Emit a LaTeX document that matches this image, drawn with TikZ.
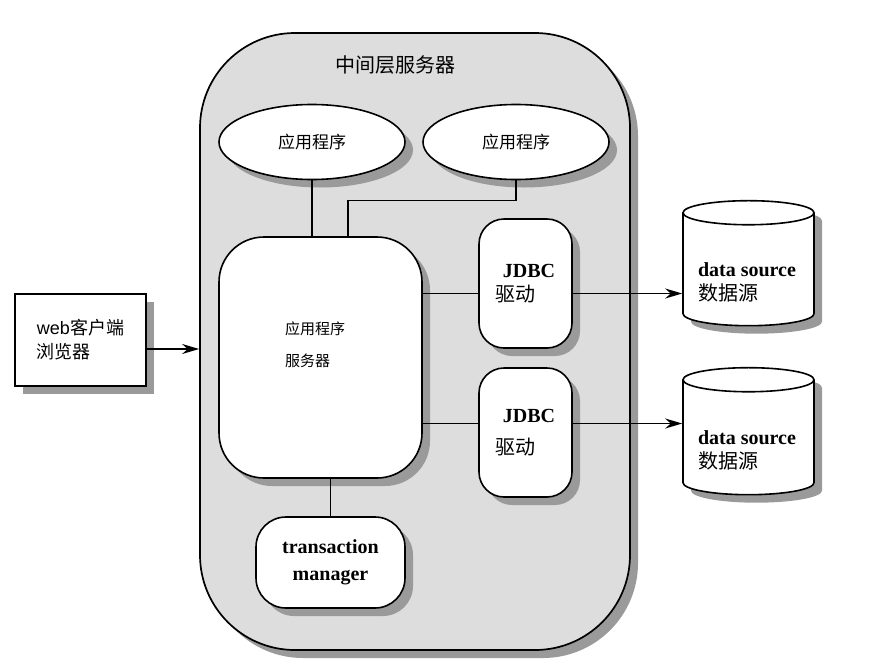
\documentclass[tikz,border=0pt]{standalone}
\usepackage{fontspec}
\setmainfont{Liberation Serif}
\setsansfont{Liberation Sans}
\newfontfamily\cjk{Noto Sans CJK SC}
\usetikzlibrary{shapes.geometric,shadows,arrows.meta}
\definecolor{tiergray}{HTML}{DDDDDD}
\definecolor{shadegray}{HTML}{9A9A9A}

\begin{document}
\begin{tikzpicture}[x=1pt,y=-1pt,
    shade/.style={drop shadow={shadow xshift=8pt,shadow yshift=-8pt,fill=shadegray,opacity=1}},
    box/.style={draw,fill=white,line width=1.6pt,shade},
    link/.style={line width=1.6pt},
    arrow/.style={link,-{Stealth[length=17pt,width=10pt]}},
    dbase/.style={box, cylinder, shape border rotate=90, aspect=0.23, minimum width=131pt,
        font=\bfseries\fontsize{20}{24}\selectfont}]
    \useasboundingbox (0,0) rectangle (875,667);

    \node[draw, line width=1.7pt, fill=tiergray, shade, rounded corners=95pt,
        minimum width=430pt, minimum height=617pt] (midtier) at (415,341.5) {};
    \node[font=\cjk\fontsize{20}{24}\selectfont] (title) at (395,65) {中间层服务器};

    \node[box, ellipse, minimum width=186pt, minimum height=75pt,
        font=\cjk\fontsize{17}{20}\selectfont] (app1) at (312,142) {应用程序};
    \node[box, ellipse, minimum width=186pt, minimum height=75pt,
        font=\cjk\fontsize{17}{20}\selectfont] (app2) at (516,142) {应用程序};

    \node[box, rounded corners=45pt, minimum width=203pt, minimum height=241pt] (appsrv) at (320.5,357.5) {};
    \node[font=\cjk\fontsize{15}{18}\selectfont, align=left] (appsrvtext) at (315,345) {应用程序\\[14pt]服务器};

    \node[box, rounded corners=25pt, minimum width=93pt, minimum height=129pt, align=left,
        font=\bfseries\fontsize{20}{24}\selectfont] (jdbc1) at (525.5,283.5)
        {\hspace{7pt}JDBC\\{\cjk\mdseries 驱动}};
    \node[box, rounded corners=25pt, minimum width=93pt, minimum height=129pt, align=left,
        font=\bfseries\fontsize{20}{24}\selectfont] (jdbc2) at (525.5,432.5)
        {\hspace{7pt}JDBC\\[8pt]{\cjk\mdseries 驱动}};

    \node[dbase, minimum height=125pt] (ds1) at (748.5,271.5) {\phantom{data source}};
    \node[align=left, font=\bfseries\fontsize{20}{24}\selectfont] (dstext1) at (747,282)
        {data source\\{\cjk\mdseries 数据源}};
    \node[dbase, minimum height=127pt] (ds2) at (748.5,439.5) {\phantom{data source}};
    \node[align=left, font=\bfseries\fontsize{20}{24}\selectfont] (dstext2) at (747,450)
        {data source\\{\cjk\mdseries 数据源}};

    \node[draw, fill=white, line width=1.7pt, shade, minimum width=131pt, minimum height=92pt,
        align=left, font=\fontsize{18}{24}\selectfont] (web) at (80.5,340)
        {{\sffamily web}{\cjk 客户端}\\{\cjk 浏览器}};

    \node[box, rounded corners=30pt, minimum width=149pt, minimum height=91pt, align=center,
        font=\bfseries\fontsize{20}{27}\selectfont] (tm) at (330.5,562.5) {transaction\\manager};

    % connectors
    \coordinate (rowA) at (0,293.5);
    \coordinate (rowB) at (0,423.5);
    \draw[link] (app1.south) -- (app1.south |- appsrv.north);
    \draw[link] (app2.south) -- ++(0,20) -| ([xshift=27.5pt]appsrv.north);
    \draw[link] (tm.north) -- (tm.north |- appsrv.south);
    \draw[link] (appsrv.east |- rowA) -- (jdbc1.west |- rowA);
    \draw[link] (appsrv.east |- rowB) -- (jdbc2.west |- rowB);
    \draw[arrow] (jdbc1.east |- rowA) -- (ds1.west |- rowA);
    \draw[arrow] (jdbc2.east |- rowB) -- (ds2.west |- rowB);
    \draw[arrow] ([yshift=-9pt]web.east) -- ([yshift=-9pt]web.east -| midtier.west);
\end{tikzpicture}
\end{document}
